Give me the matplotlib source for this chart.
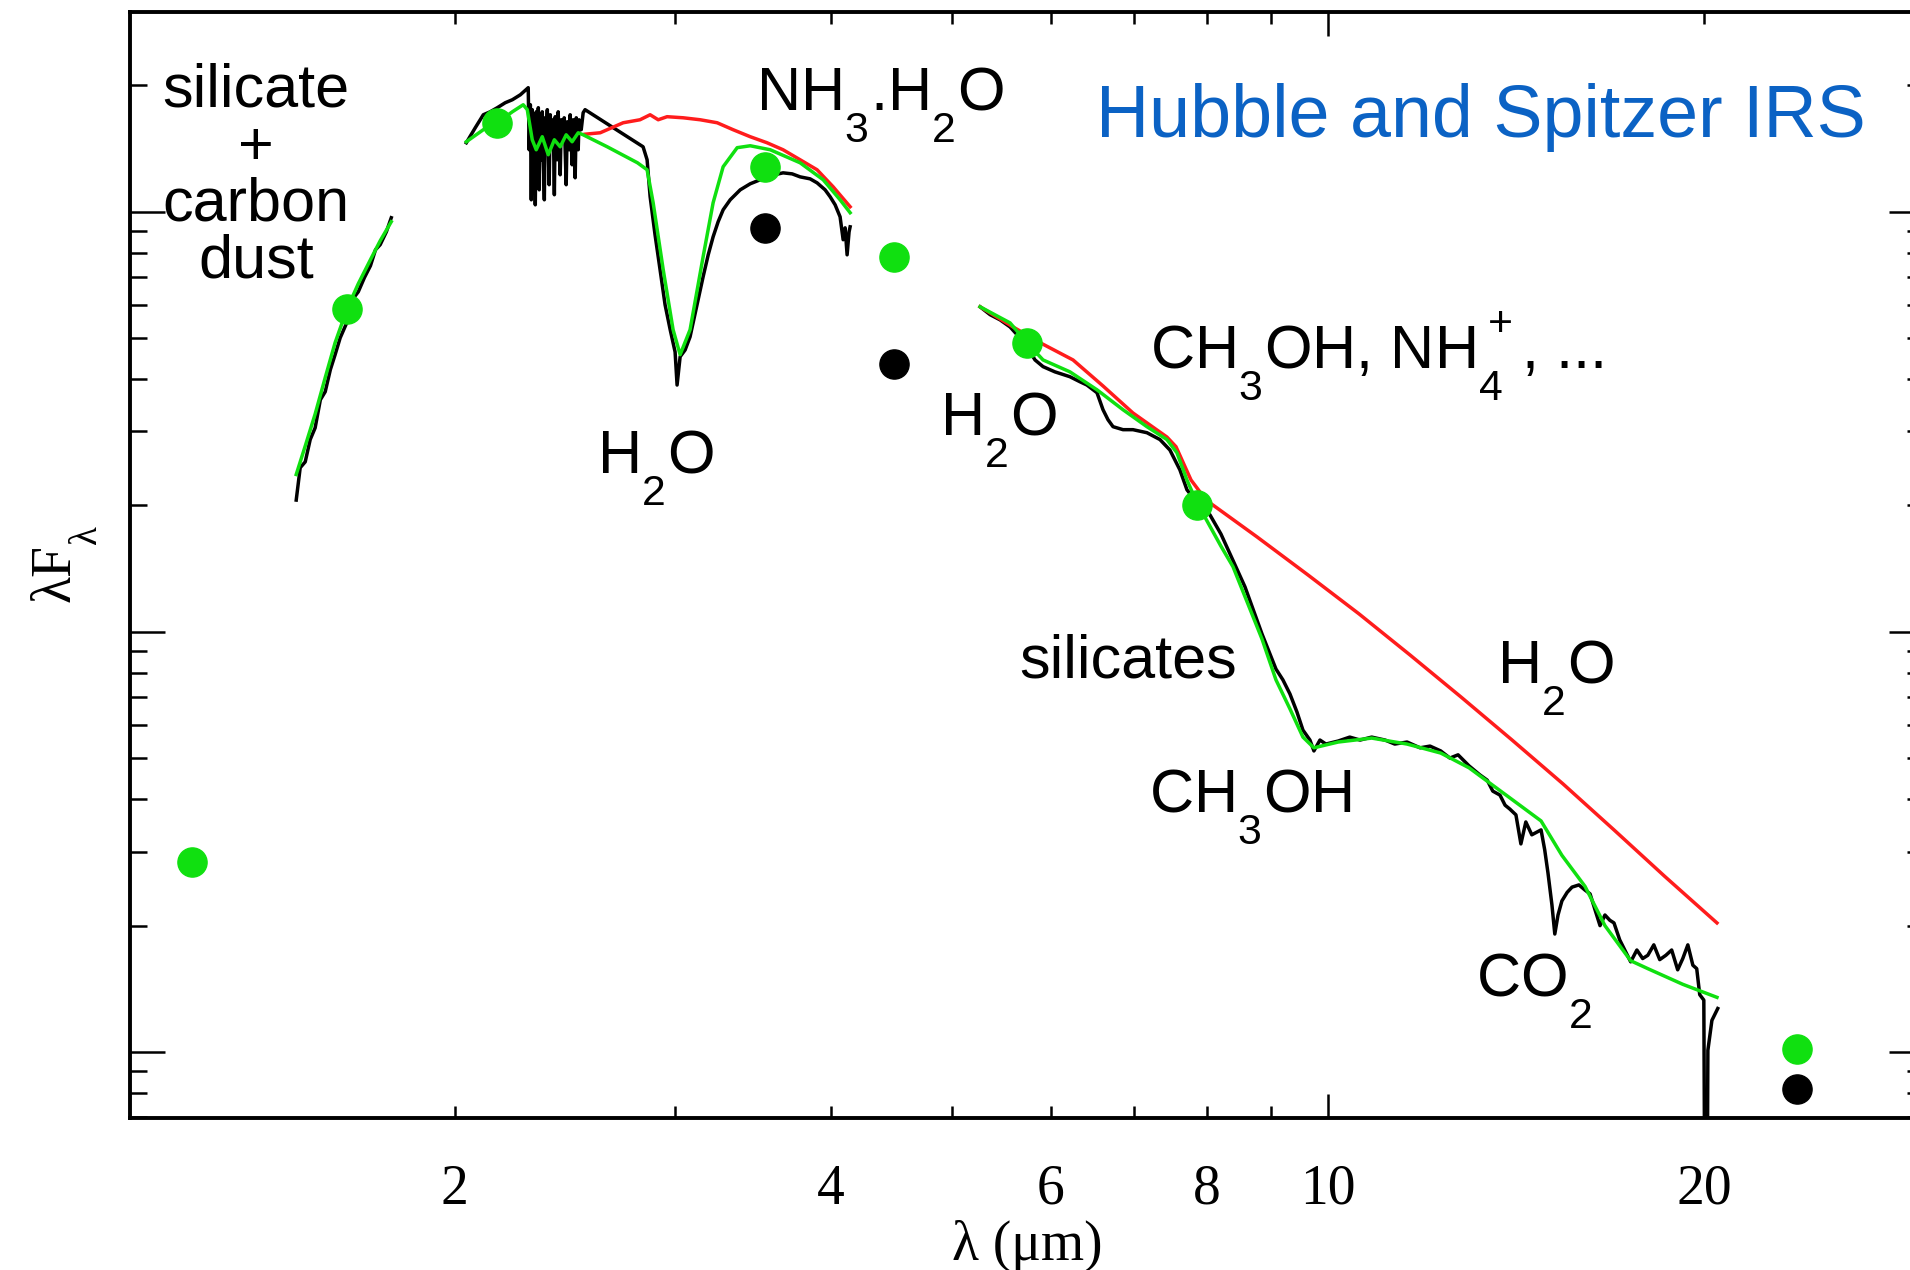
import matplotlib
matplotlib.use("Agg")
import matplotlib.pyplot as plt
import matplotlib._mathtext as mathtext_impl
from matplotlib.ticker import FixedLocator, FuncFormatter, LogLocator, NullFormatter

# broadband photometry: model-corrected (green) and observed (black)
phot_lam = [1.234, 1.641, 2.164, 3.545, 4.496, 5.743, 7.858, 23.73]
phot_model = [0.283, 5.88, 16.3, 12.8, 7.81, 4.88, 2.006, 0.102]
phot_obs_lam = [3.545, 4.496, 23.73]
phot_obs = [9.16, 4.35, 0.0816]

# H-band spectrum
h_lam_obs = [1.494, 1.505, 1.519, 1.533, 1.547, 1.562, 1.576, 1.591, 1.605, 1.620,
             1.641, 1.656, 1.675, 1.694, 1.713, 1.729, 1.744, 1.764, 1.780]
h_obs = [2.06, 2.46, 2.54, 2.87, 3.06, 3.57, 3.73, 4.21, 4.57, 5.01,
         5.47, 6.17, 6.45, 6.97, 7.44, 8.12, 8.35, 8.96, 9.68]
h_lam_model = [1.494, 1.519, 1.547, 1.576, 1.605, 1.641, 1.675, 1.713, 1.744, 1.780]
h_model = [2.37, 2.77, 3.30, 4.03, 4.88, 5.88, 6.74, 7.69, 8.53, 9.47]

# K / L-band spectrum (2-4.2 um); telluric gap 2.55-2.83 bridged by a straight line
k_lam_obs = [2.044, 2.078, 2.109, 2.136, 2.164, 2.196, 2.225, 2.258, 2.291, 2.295,
             2.300, 2.304, 2.308, 2.312, 2.317, 2.321, 2.325, 2.329, 2.334, 2.338,
             2.342, 2.347, 2.351, 2.360, 2.364, 2.368, 2.373, 2.381, 2.386, 2.390,
             2.399, 2.404, 2.408, 2.417, 2.421, 2.430, 2.435, 2.444, 2.448, 2.457,
             2.462, 2.471, 2.475, 2.484, 2.489, 2.498, 2.503, 2.512, 2.516, 2.526,
             2.535, 2.544, 2.831, 2.852, 2.868, 2.894, 2.921, 2.948, 2.976, 3.003,
             3.014, 3.031, 3.059, 3.087, 3.127, 3.162, 3.192, 3.221, 3.251, 3.281,
             3.324, 3.386, 3.449, 3.513, 3.578, 3.664, 3.726, 3.781, 3.851, 3.901,
             3.959, 3.996, 4.033, 4.070, 4.093, 4.108, 4.123, 4.138, 4.146]
k_obs = [14.60, 15.85, 17.02, 17.30, 17.69, 18.18, 18.48, 18.99, 19.74, 14.05,
         17.98, 10.68, 17.50, 12.59, 16.74, 10.39, 17.30, 14.84, 17.69, 11.28,
         16.56, 13.30, 17.30, 10.68, 16.74, 15.25, 17.50, 11.60, 17.02, 14.44,
         16.56, 10.98, 16.84, 13.30, 17.30, 12.25, 16.56, 14.84, 16.74, 11.60,
         16.38, 14.05, 17.02, 12.94, 16.56, 12.05, 16.74, 14.05, 16.56, 15.68,
         17.21, 17.50, 14.28, 13.30, 10.86, 8.82, 7.28, 6.01, 5.24, 4.64,
         3.87, 4.52, 4.69, 5.04, 6.01, 7.00, 7.90, 8.72, 9.47, 10.11,
         10.68, 11.28, 11.66, 11.92, 12.18, 12.38, 12.31, 12.11, 11.98, 11.72,
         11.28, 10.86, 10.39, 9.73, 8.58, 9.16, 7.90, 8.96, 9.21]
k_lam_model = [2.044, 2.109, 2.164, 2.225, 2.270, 2.287, 2.308, 2.325, 2.351, 2.377,
               2.404, 2.430, 2.457, 2.484, 2.512, 2.535, 2.650, 2.802, 2.852, 2.884,
               2.938, 2.992, 3.031, 3.087, 3.162, 3.221, 3.281, 3.367, 3.449, 3.578,
               3.781, 3.945, 4.070, 4.146]
k_model = [14.68, 15.68, 16.29, 17.30, 17.98, 17.50, 14.84, 14.05, 15.09, 13.67,
           14.84, 14.28, 15.25, 14.68, 15.42, 15.25, 14.28, 13.08, 12.59, 10.51,
           7.28, 5.24, 4.57, 5.24, 7.81, 10.51, 12.80, 14.21, 14.36, 14.05,
           13.08, 11.92, 10.68, 9.95]
k_lam_bare = [2.544, 2.616, 2.729, 2.815, 2.868, 2.911, 2.959, 3.048, 3.145, 3.245,
              3.342, 3.449, 3.557, 3.664, 3.781, 3.901, 4.018, 4.146]
k_bare = [15.30, 15.42, 16.29, 16.56, 17.02, 16.56, 16.84, 16.74, 16.56, 16.29,
          15.68, 15.09, 14.60, 14.05, 13.30, 12.59, 11.47, 10.28]

# Spitzer IRS spectrum (5-20 um)
irs_lam_obs = [5.268, 5.366, 5.466, 5.567, 5.670, 5.743, 5.829, 5.916, 6.046, 6.216,
               6.332, 6.414, 6.534, 6.607, 6.668, 6.730, 6.855, 6.982, 7.164, 7.338,
               7.474, 7.613, 7.712, 7.856, 8.046, 8.211, 8.395, 8.583, 8.856, 9.087,
               9.204, 9.324, 9.445, 9.550, 9.674, 9.745, 9.854, 9.963, 10.19, 10.41,
               10.61, 10.84, 11.11, 11.31, 11.57, 11.85, 12.07, 12.31, 12.52, 12.71,
               12.97, 13.23, 13.41, 13.55, 13.73, 13.86, 13.98, 14.14, 14.27, 14.40,
               14.56, 14.81, 14.91, 15.00, 15.11, 15.19, 15.28, 15.39, 15.54, 15.68,
               15.88, 16.06, 16.21, 16.36, 16.51, 16.66, 16.81, 16.94, 17.12, 17.28,
               17.47, 17.67, 17.86, 18.03, 18.23, 18.43, 18.64, 18.84, 19.05, 19.23,
               19.41, 19.59, 19.73, 19.84, 19.99, 20.07, 20.14, 20.29, 20.51]
irs_obs = [5.94, 5.69, 5.53, 5.32, 5.01, 4.77, 4.44, 4.28, 4.16, 4.05,
           3.94, 3.87, 3.71, 3.38, 3.20, 3.08, 3.03, 3.03, 2.98, 2.87,
           2.71, 2.43, 2.18, 2.03, 1.90, 1.71, 1.48, 1.28, 0.989, 0.816,
           0.769, 0.712, 0.645, 0.584, 0.553, 0.521, 0.553, 0.541, 0.550, 0.562,
           0.553, 0.562, 0.553, 0.541, 0.547, 0.530, 0.535, 0.521, 0.501, 0.510,
           0.480, 0.457, 0.444, 0.418, 0.409, 0.387, 0.379, 0.367, 0.313, 0.353,
           0.329, 0.338, 0.303, 0.267, 0.224, 0.191, 0.212, 0.229, 0.240, 0.247,
           0.250, 0.243, 0.238, 0.218, 0.200, 0.212, 0.206, 0.203, 0.185, 0.175,
           0.164, 0.175, 0.167, 0.170, 0.180, 0.166, 0.170, 0.175, 0.157, 0.167,
           0.180, 0.161, 0.158, 0.137, 0.133, 0.010, 0.101, 0.119, 0.127]
irs_lam_model = [5.268, 5.567, 5.743, 5.916, 6.216, 6.534, 6.855, 7.164, 7.433, 7.571,
                 7.712, 7.856, 8.211, 8.395, 8.856, 9.087, 9.324, 9.550, 9.745, 10.19,
                 10.84, 11.57, 12.31, 12.97, 13.98, 14.81, 15.39, 16.06, 16.66, 17.47,
                 18.03, 19.23, 20.48]
irs_model = [5.94, 5.44, 4.88, 4.44, 4.16, 3.77, 3.38, 3.08, 2.87, 2.67,
             2.30, 2.03, 1.60, 1.43, 0.962, 0.769, 0.656, 0.562, 0.530, 0.547,
             0.559, 0.541, 0.515, 0.475, 0.403, 0.355, 0.294, 0.248, 0.200, 0.165,
             0.158, 0.145, 0.135]
irs_lam_bare = [5.268, 5.598, 5.884, 6.252, 6.607, 6.982, 7.433, 7.558, 7.770, 7.989,
                8.774, 9.638, 10.59, 11.63, 12.78, 14.04, 15.42, 16.94, 18.60, 20.48]
irs_bare = [5.94, 5.32, 4.88, 4.44, 3.85, 3.32, 2.91, 2.76, 2.30, 2.06,
            1.684, 1.367, 1.104, 0.882, 0.700, 0.553, 0.435, 0.338, 0.262, 0.203]

x_labeled = [2, 4, 6, 8, 20]

GREEN = "#10e010"
RED = "#ff1c1c"
BLUE = "#0b62c4"

# chemical formulae: subscripts sit below the baseline, charges near cap height
mathtext_impl.FontConstantsBase.sub1 = 1.0
mathtext_impl.FontConstantsBase.sub2 = 1.0
mathtext_impl.FontConstantsBase.sup1 = 1.0

plt.rcParams["font.family"] = ["Liberation Serif", "DejaVu Serif"]
plt.rcParams["mathtext.default"] = "regular"

fig = plt.figure(figsize=(19.1, 12.7), dpi=100)
ax = fig.add_axes([0.0681, 0.1197, 0.9393, 0.8709])

lw = 2.5
for lam, f in [(h_lam_obs, h_obs), (k_lam_obs, k_obs), (irs_lam_obs, irs_obs)]:
    ax.plot(lam, f, color="black", lw=lw)
for lam, f in [(k_lam_bare, k_bare), (irs_lam_bare, irs_bare)]:
    ax.plot(lam, f, color=RED, lw=lw)
for lam, f in [(h_lam_model, h_model), (k_lam_model, k_model), (irs_lam_model, irs_model)]:
    ax.plot(lam, f, color=GREEN, lw=lw)

ax.plot(phot_obs_lam, phot_obs, "o", color="black", ms=21, zorder=5)
ax.plot(phot_lam, phot_model, "o", color=GREEN, ms=21, zorder=5)

ax.set_xscale("log")
ax.set_yscale("log")
ax.set_xlim(1.10, 30.0)
ax.set_ylim(0.0697, 29.9)

ax.xaxis.set_major_locator(FixedLocator([10]))
ax.xaxis.set_minor_locator(FixedLocator([2, 3, 4, 5, 6, 7, 8, 9, 20]))
ax.xaxis.set_major_formatter(FuncFormatter(lambda v, p: f"{v:g}"))
ax.xaxis.set_minor_formatter(FuncFormatter(lambda v, p: f"{v:g}" if round(v) in x_labeled else ""))
ax.yaxis.set_major_locator(LogLocator(base=10))
ax.yaxis.set_minor_locator(LogLocator(base=10, subs=range(2, 10)))
ax.yaxis.set_major_formatter(NullFormatter())
ax.yaxis.set_minor_formatter(NullFormatter())

ax.tick_params(which="both", direction="in", top=True, right=True, width=1.8)
ax.tick_params(axis="x", which="major", length=17, labelsize=40, pad=33)
ax.tick_params(axis="x", which="minor", length=8.5, labelsize=40, pad=33)
ax.tick_params(axis="y", which="major", length=25)
ax.tick_params(axis="y", which="minor", length=12)
for s in ax.spines.values():
    s.set_linewidth(2.8)

ax.set_xlabel("λ (μm)", fontsize=40, labelpad=3)
ax.set_ylabel("λF$_{λ}$", fontsize=40, labelpad=19)

sans = dict(family=["Liberation Sans", "DejaVu Sans"], fontsize=44, transform=ax.transAxes)
ax.text(0.0702, 0.851, "silicate\n+\ncarbon\ndust", ha="center", va="center",
        linespacing=1.0, **sans)
ax.text(0.418, 0.9114, "NH$_3$.H$_2$O", ha="center", va="baseline", **sans)
ax.text(0.2926, 0.5832, "H$_2$O", ha="center", va="baseline", **sans)
ax.text(0.4838, 0.6175, "H$_2$O", ha="center", va="baseline", **sans)
ax.text(0.5686, 0.6781, "CH$_3$OH, NH$_4^+$, ...", ha="left", va="baseline", **sans)
ax.text(0.5563, 0.3978, "silicates", ha="center", va="baseline", **sans)
ax.text(0.7943, 0.3933, "H$_2$O", ha="center", va="baseline", **sans)
ax.text(0.568, 0.2767, "CH$_3$OH", ha="left", va="baseline", **sans)
ax.text(0.7826, 0.1103, "CO$_2$", ha="center", va="baseline", **sans)
ax.text(0.7531, 0.887, "Hubble and Spitzer IRS", ha="center", va="baseline",
        color=BLUE, family=["Liberation Sans", "DejaVu Sans"], fontsize=53,
        transform=ax.transAxes)

fig.savefig("out.png", dpi=100)
